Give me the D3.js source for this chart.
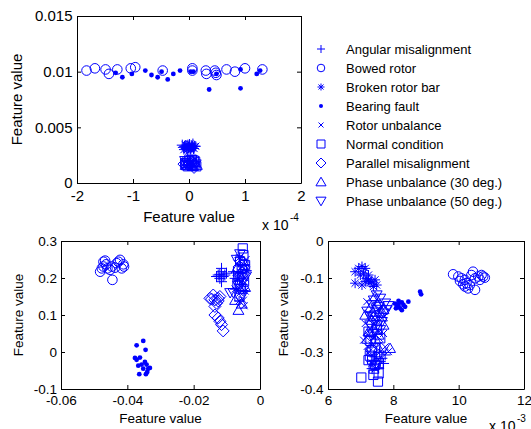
<!DOCTYPE html>
<html>
<head>
<meta charset="utf-8">
<script src="https://cdn.jsdelivr.net/npm/d3@7"></script>
<style>
  body { margin: 0; background: #fff; }
  text { font-family: "Liberation Sans", Arial, Helvetica, sans-serif; fill: #000; }
</style>
</head>
<body>
<svg id="fig" width="531" height="429"></svg>
<script>
// ---- data: legend order / class names ----
const classNames = ["Angular misalignment", "Bowed rotor", "Broken rotor bar", "Bearing fault",
  "Rotor unbalance", "Normal condition", "Parallel misalignment",
  "Phase unbalance (30 deg.)", "Phase unbalance (50 deg.)"];
const classKeys = ["plus", "circle", "star", "dot", "xmark", "square", "diamond", "triUp", "triDown"];

// ---- top panel (x in units of 1e-4) ----
const topXTicks = [-2, -1, 0, 1, 2];
const topXLabels = ["-2", "-1", "0", "1", "2"];
const topYTicks = [0, 0.005, 0.01, 0.015];
const topYLabels = ["0", "0.005", "0.01", "0.015"];
const topAngular = [[-0.08,0.0033],[-0.02,0.0034],[0.05,0.0032],[0.10,0.0033],[-0.05,0.0031],[0.02,0.0031],[0.07,0.0035],[-0.10,0.0032],[-0.04,0.0033],[0.08,0.0031],[0.00,0.0033],[-0.12,0.0034]];
const topBowed = [[-1.83,0.0101],[-1.68,0.0103],[-1.49,0.0102],[-1.43,0.0098],[-1.28,0.0102],[-1.04,0.0103],[-0.96,0.0104],[-0.47,0.0101],[0.06,0.0103],[0.06,0.0101],[0.30,0.0101],[0.31,0.0098],[0.46,0.0101],[0.48,0.0099],[0.49,0.0097],[0.67,0.0102],[0.82,0.0100],[1.00,0.0103],[1.31,0.0102]];
const topBroken = [[-0.06,0.0034],[0.00,0.0032],[0.04,0.0034],[0.09,0.0031],[-0.03,0.0030],[0.12,0.0033],[-0.09,0.0030],[0.01,0.0035],[0.06,0.0033],[-0.01,0.0031],[0.03,0.0030]];
const topBearing = [[-1.31,0.0099],[-1.19,0.0095],[-1.02,0.0098],[-0.78,0.0101],[-0.67,0.0097],[-0.56,0.0095],[-0.49,0.0100],[-0.38,0.0093],[-0.28,0.0098],[-0.16,0.0101],[0.03,0.0100],[0.08,0.0100],[0.36,0.0084],[0.49,0.0098],[0.92,0.0085],[0.92,0.0102],[1.21,0.0098],[1.27,0.0101]];
const topRotor = [[-0.05,0.0019],[0.08,0.0017],[0.12,0.0021],[-0.08,0.0015],[0.03,0.0014],[0.00,0.0017],[0.10,0.0015],[-0.03,0.0021]];
const topNormal = [[-0.07,0.0018],[0.00,0.0020],[0.06,0.0016],[0.11,0.0019],[-0.02,0.0015],[0.13,0.0015],[0.05,0.0021],[-0.05,0.0016],[0.09,0.0020]];
const topParallel = [[-0.04,0.0021],[0.04,0.0019],[0.09,0.0014],[-0.09,0.0017]];
const topPhase30 = [[-0.06,0.0016],[0.02,0.0017],[0.10,0.0018],[0.14,0.0016],[-0.01,0.0019],[0.07,0.0015]];
const topPhase50 = [[-0.03,0.0018],[0.05,0.0021],[0.12,0.0017],[-0.07,0.0020]];

// ---- bottom-left panel ----
const blXTicks = [-0.06, -0.04, -0.02, 0];
const blXLabels = ["-0.06", "-0.04", "-0.02", "0"];
const blYTicks = [-0.1, 0, 0.1, 0.2, 0.3];
const blYLabels = ["-0.1", "0", "0.1", "0.2", "0.3"];
const blAngular = [[-0.0126,0.208],[-0.0116,0.217],[-0.0111,0.204],[-0.0121,0.199],[-0.0106,0.208],[-0.0101,0.213],[-0.0131,0.204],[-0.0116,0.190],[-0.0116,0.226],[-0.0080,0.217],[-0.0075,0.199],[-0.0121,0.210]];
const blBowed = [[-0.0482,0.217],[-0.0472,0.244],[-0.0464,0.237],[-0.0460,0.226],[-0.0447,0.231],[-0.0445,0.195],[-0.0437,0.228],[-0.0427,0.244],[-0.0422,0.249],[-0.0412,0.237],[-0.0410,0.231],[-0.0472,0.231],[-0.0477,0.226],[-0.0452,0.222],[-0.0417,0.226],[-0.0467,0.247],[-0.0432,0.240]];
const blBroken = [[-0.0062,0.255],[-0.0048,0.235],[-0.0058,0.215],[-0.0068,0.198],[-0.0052,0.182],[-0.0045,0.165],[-0.0063,0.138],[-0.0040,0.220],[-0.0075,0.170]];
const blBearing = [[-0.0352,0.030],[-0.0372,0.018],[-0.0345,0.006],[-0.0377,-0.016],[-0.0372,-0.021],[-0.0362,-0.015],[-0.0357,-0.034],[-0.0347,-0.027],[-0.0342,-0.034],[-0.0352,-0.045],[-0.0337,-0.045],[-0.0364,-0.060],[-0.0344,-0.060],[-0.0340,-0.054],[-0.0332,-0.043],[-0.0367,-0.037]];
const blRotor = [[-0.0070,0.240],[-0.0055,0.230],[-0.0045,0.200],[-0.0065,0.175],[-0.0060,0.160],[-0.0050,0.140],[-0.0072,0.215],[-0.0042,0.250],[-0.0055,0.190],[-0.0048,0.125]];
const blNormal = [[-0.0052,0.280],[-0.0050,0.262],[-0.0060,0.245],[-0.0055,0.225],[-0.0065,0.205],[-0.0048,0.190],[-0.0058,0.170],[-0.0062,0.150],[-0.0050,0.210],[-0.0068,0.185],[-0.0045,0.235]];
const blParallel = [[-0.0151,0.145],[-0.0141,0.154],[-0.0131,0.132],[-0.0121,0.150],[-0.0126,0.138],[-0.0136,0.123],[-0.0136,0.100],[-0.0126,0.092],[-0.0121,0.083],[-0.0116,0.074],[-0.0111,0.057],[-0.0136,0.141],[-0.0146,0.143],[-0.0126,0.145]];
const blPhase30 = [[-0.0065,0.113],[-0.0075,0.140],[-0.0055,0.130],[-0.0060,0.195],[-0.0050,0.245],[-0.0070,0.225],[-0.0045,0.175]];
const blPhase50 = [[-0.0060,0.265],[-0.0070,0.250],[-0.0048,0.225],[-0.0058,0.200],[-0.0066,0.180],[-0.0052,0.155],[-0.0080,0.160],[-0.0042,0.205],[-0.0090,0.160]];

// ---- bottom-right panel (x in units of 1e-3) ----
const brXTicks = [6, 8, 10, 12];
const brXLabels = ["6", "8", "10", "12"];
const brYTicks = [-0.4, -0.3, -0.2, -0.1, 0];
const brYLabels = ["-0.4", "-0.3", "-0.2", "-0.1", "0"];
const brAngular = [[7.60,-0.326],[7.70,-0.331],[7.44,-0.313],[7.55,-0.344],[7.65,-0.317],[7.34,-0.326],[7.75,-0.308],[7.45,-0.335],[7.58,-0.300],[7.35,-0.345]];
const brBowed = [[9.83,-0.090],[9.99,-0.096],[10.09,-0.101],[10.19,-0.105],[10.24,-0.114],[10.34,-0.119],[10.44,-0.083],[10.50,-0.101],[10.39,-0.092],[10.60,-0.096],[10.65,-0.105],[10.70,-0.092],[10.75,-0.096],[10.80,-0.099],[10.19,-0.123],[10.29,-0.128],[10.50,-0.132],[10.14,-0.117],[10.04,-0.108]];
const brBroken = [[6.83,-0.083],[6.94,-0.074],[7.04,-0.069],[7.14,-0.074],[7.09,-0.087],[6.99,-0.092],[7.19,-0.101],[7.24,-0.105],[7.34,-0.110],[7.44,-0.105],[6.83,-0.114],[7.14,-0.110],[7.29,-0.114],[7.04,-0.119],[7.39,-0.123],[7.49,-0.119],[7.24,-0.092]];
const brBearing = [[8.05,-0.169],[8.11,-0.178],[8.16,-0.173],[8.21,-0.182],[8.26,-0.166],[8.31,-0.173],[8.36,-0.178],[8.46,-0.164],[8.16,-0.162],[8.08,-0.182],[8.82,-0.137],[8.85,-0.144],[8.26,-0.187]];
const brRotor = [[7.14,-0.223],[7.09,-0.268],[7.24,-0.254],[7.44,-0.236],[7.65,-0.209],[7.85,-0.299],[7.75,-0.286],[7.34,-0.281],[7.55,-0.182],[7.19,-0.164],[7.60,-0.299],[7.30,-0.200],[7.50,-0.220],[7.40,-0.260],[7.25,-0.300],[7.55,-0.320],[7.45,-0.345],[7.35,-0.330],[7.70,-0.250],[7.20,-0.285]];
const brNormal = [[7.02,-0.369],[7.39,-0.362],[7.53,-0.380],[7.55,-0.358],[7.24,-0.322],[7.24,-0.245],[7.44,-0.335],[7.34,-0.299],[7.60,-0.263],[7.49,-0.227],[7.35,-0.320],[7.45,-0.290],[7.30,-0.270],[7.55,-0.330],[7.40,-0.345],[7.28,-0.310],[7.50,-0.240]];
const brParallel = [[7.29,-0.254],[7.49,-0.272],[7.39,-0.209],[7.55,-0.308],[7.32,-0.295]];
const brPhase30 = [[7.44,-0.150],[7.60,-0.191],[7.34,-0.214],[7.70,-0.227],[7.24,-0.245],[7.55,-0.254],[7.90,-0.290],[7.14,-0.200],[7.30,-0.180],[7.50,-0.170],[7.65,-0.205],[7.40,-0.235],[7.20,-0.265],[7.55,-0.290],[7.45,-0.265],[7.70,-0.185]];
const brPhase50 = [[7.49,-0.146],[7.60,-0.155],[7.80,-0.186],[7.34,-0.173],[7.55,-0.177],[7.44,-0.200],[7.65,-0.218],[7.29,-0.227],[7.75,-0.168],[7.20,-0.190],[7.40,-0.160],[7.70,-0.195],[7.50,-0.185],[7.30,-0.205],[7.60,-0.240],[7.45,-0.215],[7.85,-0.175],[7.35,-0.250]];

// ---- drawing ----
const blue = "#0000ff";
const svg = d3.select("#fig");
svg.append("rect").attr("width", 531).attr("height", 429).attr("fill", "#fff");

// marker shapes, s = half size
const markers = {
  plus:    s => `M${-s},0H${s}M0,${-s}V${s}`,
  circle:  s => `M${s},0A${s},${s} 0 1,1 ${-s},0A${s},${s} 0 1,1 ${s},0Z`,
  star:    s => { const d = s * 0.72; return `M${-s},0H${s}M0,${-s}V${s}M${-d},${-d}L${d},${d}M${-d},${d}L${d},${-d}`; },
  dot:     s => `M${s},0A${s},${s} 0 1,1 ${-s},0A${s},${s} 0 1,1 ${s},0Z`,
  xmark:   s => `M${-s},${-s}L${s},${s}M${-s},${s}L${s},${-s}`,
  square:  s => `M${-s},${-s}h${2 * s}v${2 * s}h${-2 * s}Z`,
  diamond: s => `M0,${-s * 1.25}L${s * 1.25},0L0,${s * 1.25}L${-s * 1.25},0Z`,
  triUp:   s => `M0,${-s}L${s * 1.05},${s * 0.8}L${-s * 1.05},${s * 0.8}Z`,
  triDown: s => `M0,${s}L${s * 1.05},${-s * 0.8}L${-s * 1.05},${-s * 0.8}Z`
};
// size used in the plots
const plotSize = { plus: 5.5, circle: 4.8, star: 5, dot: 2.4, xmark: 3.5, square: 4.6, diamond: 4.8, triUp: 5.2, triDown: 5.2 };
const legendSize = { plus: 4, circle: 3.8, star: 3.5, dot: 2, xmark: 2.5, square: 4, diamond: 4, triUp: 4.8, triDown: 4.8 };

function styleMark(sel, key) {
  if (key === "dot") sel.attr("fill", blue).attr("stroke", "none");
  else sel.attr("fill", "none").attr("stroke", blue).attr("stroke-width", 1);
}

function panel(cfg) {
  const x = d3.scaleLinear().domain(cfg.xDomain).range([cfg.left, cfg.right]);
  const y = d3.scaleLinear().domain(cfg.yDomain).range([cfg.bottom, cfg.top]);
  const g = svg.append("g");

  cfg.series.forEach((pts, i) => {
    const key = classKeys[i];
    g.append("g").selectAll("path").data(pts).join("path")
      .attr("transform", d => `translate(${x(d[0])},${y(d[1])})`)
      .attr("d", markers[key](plotSize[key]))
      .call(styleMark, key);
  });

  const addAxis = (gen, tx, ty, fs) => {
    const a = g.append("g").attr("transform", `translate(${tx},${ty})`).call(gen);
    a.selectAll("path, line").attr("stroke", "#000");
    a.selectAll("text").attr("font-size", fs).attr("font-family", null).attr("fill", "#000");
    return a;
  };
  const fs = cfg.fontSize;
  addAxis(d3.axisBottom(x).tickValues(cfg.xTicks).tickFormat((d, i) => cfg.xLabels[i])
    .tickSizeInner(-4).tickSizeOuter(0).tickPadding(cfg.padX), 0, cfg.bottom, fs);
  addAxis(d3.axisLeft(y).tickValues(cfg.yTicks).tickFormat((d, i) => cfg.yLabels[i])
    .tickSizeInner(-4).tickSizeOuter(0).tickPadding(cfg.padY), cfg.left, 0, fs);
  addAxis(d3.axisTop(x).tickValues(cfg.xTicks).tickFormat("")
    .tickSizeInner(-4).tickSizeOuter(0), 0, cfg.top, fs);
  addAxis(d3.axisRight(y).tickValues(cfg.yTicks).tickFormat("")
    .tickSizeInner(-4).tickSizeOuter(0), cfg.right, 0, fs);

  g.append("text").attr("x", (cfg.left + cfg.right) / 2).attr("y", cfg.xTitleY)
    .attr("text-anchor", "middle").attr("font-size", fs).text("Feature value");
  const cy = (cfg.top + cfg.bottom) / 2;
  g.append("text").attr("transform", `translate(${cfg.yTitleX},${cy}) rotate(-90)`)
    .attr("text-anchor", "middle").attr("font-size", fs).text("Feature value");

  if (cfg.mult) {
    g.append("text").attr("x", cfg.mult.x).attr("y", cfg.mult.y).attr("font-size", 14).text("x 10");
    g.append("text").attr("x", cfg.mult.x + 28).attr("y", cfg.mult.y - 9).attr("font-size", 10).text(cfg.mult.exp);
  }
}

panel({
  left: 77, right: 301, top: 16, bottom: 183, fontSize: 15, padX: 7, padY: 4.5,
  xDomain: [-2, 2], yDomain: [0, 0.015],
  xTicks: topXTicks, xLabels: topXLabels, yTicks: topYTicks, yLabels: topYLabels,
  xTitleY: 222, yTitleX: 22,
  mult: { x: 262, y: 230, exp: "-4" },
  series: [topAngular, topBowed, topBroken, topBearing, topRotor, topNormal, topParallel, topPhase30, topPhase50]
});

panel({
  left: 61, right: 260, top: 241, bottom: 389, fontSize: 13.5, padX: 6.5, padY: 4,
  xDomain: [-0.06, 0], yDomain: [-0.1, 0.3],
  xTicks: blXTicks, xLabels: blXLabels, yTicks: blYTicks, yLabels: blYLabels,
  xTitleY: 423, yTitleX: 23,
  series: [blAngular, blBowed, blBroken, blBearing, blRotor, blNormal, blParallel, blPhase30, blPhase50]
});

panel({
  left: 328, right: 524, top: 241, bottom: 389, fontSize: 13.5, padX: 6.5, padY: 4.5,
  xDomain: [6, 12], yDomain: [-0.4, 0],
  xTicks: brXTicks, xLabels: brXLabels, yTicks: brYTicks, yLabels: brYLabels,
  xTitleY: 423, yTitleX: 288,
  mult: { x: 489, y: 431, exp: "-3" },
  series: [brAngular, brBowed, brBroken, brBearing, brRotor, brNormal, brParallel, brPhase30, brPhase50]
});

// legend
const legend = svg.append("g");
const legY = d3.scaleLinear().domain([0, classNames.length - 1]).range([49, 201]);
classNames.forEach((name, i) => {
  const key = classKeys[i];
  legend.append("path").attr("transform", `translate(321,${legY(i)})`)
    .attr("d", markers[key](legendSize[key])).call(styleMark, key);
  legend.append("text").attr("x", 346).attr("y", legY(i)).attr("dy", "0.35em")
    .attr("font-size", 13).text(name);
});
</script>
</body>
</html>
